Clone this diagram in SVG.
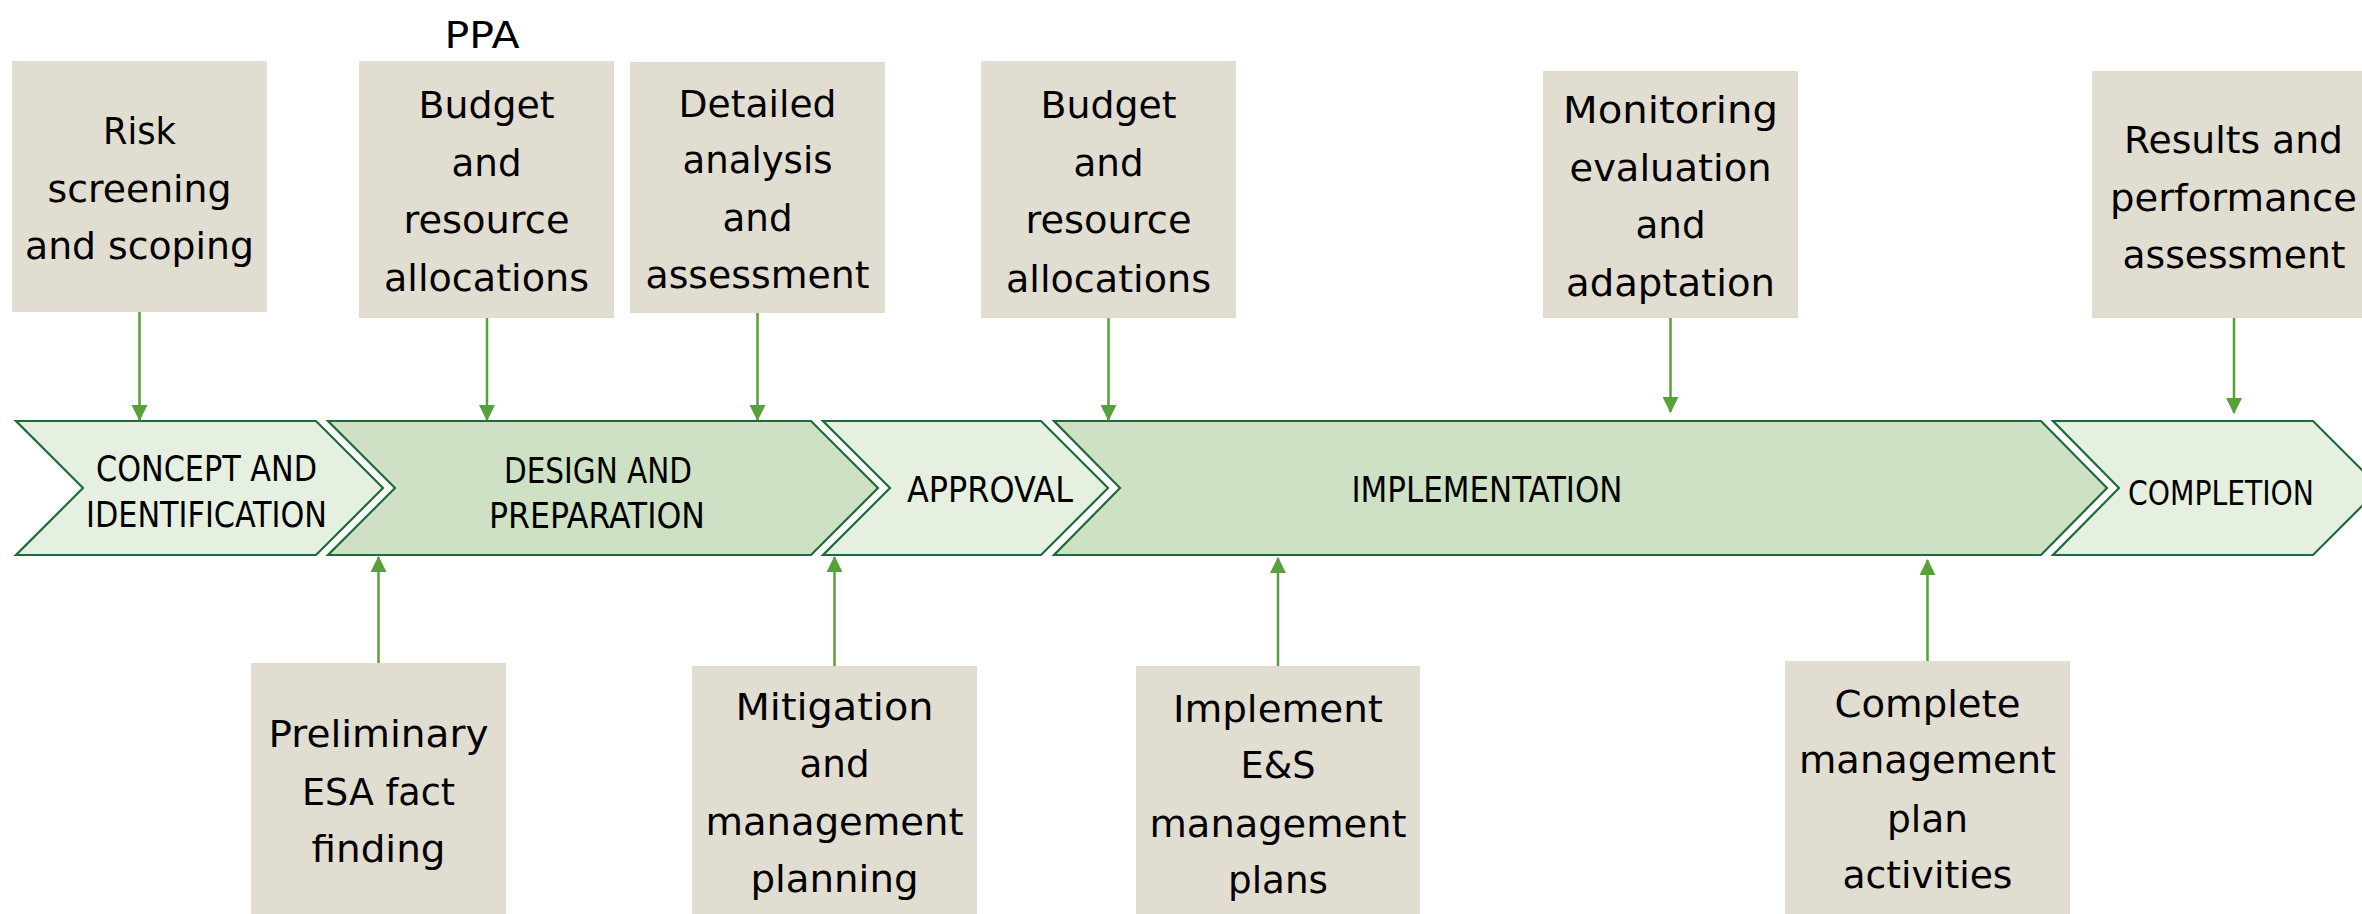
<svg xmlns="http://www.w3.org/2000/svg" width="2362" height="914" viewBox="0 0 2362 914">
<style>
.box{fill:#E2DDD1}
.lt{fill:#E6F0E1;stroke:#1D6A3A;stroke-width:2.2}
.dk{fill:#CFE1C4;stroke:#1D6A3A;stroke-width:2.2}
.bt{font-family:"DejaVu Sans","Liberation Sans",sans-serif;font-size:38px;fill:#000;text-anchor:middle}
.ct{font-family:"Liberation Sans Narrow","DejaVu Sans Condensed","Liberation Sans",sans-serif;font-size:36px;fill:#000;text-anchor:middle}
.ar{stroke:#57A03A;stroke-width:2.5;fill:none;marker-end:url(#ah)}
</style>
<defs>
<marker id="ah" markerUnits="userSpaceOnUse" markerWidth="16" markerHeight="16" viewBox="0 0 16 16" refX="15" refY="8" orient="auto">
<path d="M0,0 L16,8 L0,16 Z" fill="#57A03A"/>
</marker>
</defs>
<rect width="2362" height="914" fill="#fff"/>

<g id="phases">
<g id="concept"><polygon class="lt" points="16,421 316,421 383,488 316,555 16,555 83,488"/>
<text class="ct" x="206.5" y="481" textLength="221" lengthAdjust="spacingAndGlyphs">CONCEPT AND</text>
<text class="ct" x="206.5" y="527" textLength="241" lengthAdjust="spacingAndGlyphs">IDENTIFICATION</text></g>
<g id="design"><polygon class="dk" points="328,421 811,421 878,488 811,555 328,555 395,488"/>
<text class="ct" x="598" y="483" textLength="188" lengthAdjust="spacingAndGlyphs">DESIGN AND</text>
<text class="ct" x="597" y="528" textLength="216" lengthAdjust="spacingAndGlyphs">PREPARATION</text></g>
<g id="approval"><polygon class="lt" points="823,421 1041,421 1108,488 1041,555 823,555 890,488"/>
<text class="ct" x="990" y="502" textLength="166" lengthAdjust="spacingAndGlyphs">APPROVAL</text></g>
<g id="implementation"><polygon class="dk" points="1054,421 2041,421 2107,488 2041,555 1054,555 1120,488"/>
<text class="ct" x="1487" y="502" textLength="271" lengthAdjust="spacingAndGlyphs">IMPLEMENTATION</text></g>
<g id="completion"><polygon class="lt" points="2053,421 2313,421 2380,488 2313,555 2053,555 2119,488"/>
<text class="ct" x="2221" y="505" style="font-size:34px" textLength="186" lengthAdjust="spacingAndGlyphs">COMPLETION</text></g>
</g>

<text id="ppa" class="bt" x="482" y="48" textLength="75" lengthAdjust="spacingAndGlyphs">PPA</text>

<g id="risk"><rect class="box" x="12" y="61" width="255" height="251"/>
<text class="bt" x="139.5" y="144" textLength="73" lengthAdjust="spacingAndGlyphs">Risk</text>
<text class="bt" x="139.5" y="202" textLength="184" lengthAdjust="spacingAndGlyphs">screening</text>
<text class="bt" x="139.5" y="259" textLength="229" lengthAdjust="spacingAndGlyphs">and scoping</text></g>

<g id="budget1"><rect class="box" x="359" y="61" width="255" height="257"/>
<text class="bt" x="486.5" y="118" textLength="136" lengthAdjust="spacingAndGlyphs">Budget</text>
<text class="bt" x="486.5" y="176" textLength="70" lengthAdjust="spacingAndGlyphs">and</text>
<text class="bt" x="486.5" y="233" textLength="166" lengthAdjust="spacingAndGlyphs">resource</text>
<text class="bt" x="486.5" y="291" textLength="205" lengthAdjust="spacingAndGlyphs">allocations</text></g>

<g id="detailed"><rect class="box" x="630" y="62" width="255" height="251"/>
<text class="bt" x="757.5" y="117" textLength="158" lengthAdjust="spacingAndGlyphs">Detailed</text>
<text class="bt" x="757.5" y="173" textLength="150" lengthAdjust="spacingAndGlyphs">analysis</text>
<text class="bt" x="757.5" y="231" textLength="70" lengthAdjust="spacingAndGlyphs">and</text>
<text class="bt" x="757.5" y="288" textLength="224" lengthAdjust="spacingAndGlyphs">assessment</text></g>

<g id="budget2"><rect class="box" x="981" y="61" width="255" height="257"/>
<text class="bt" x="1108.5" y="118" textLength="136" lengthAdjust="spacingAndGlyphs">Budget</text>
<text class="bt" x="1108.5" y="176" textLength="70" lengthAdjust="spacingAndGlyphs">and</text>
<text class="bt" x="1108.5" y="233" textLength="166" lengthAdjust="spacingAndGlyphs">resource</text>
<text class="bt" x="1108.5" y="292" textLength="205" lengthAdjust="spacingAndGlyphs">allocations</text></g>

<g id="monitoring"><rect class="box" x="1543" y="71" width="255" height="247"/>
<text class="bt" x="1670.5" y="123" textLength="215" lengthAdjust="spacingAndGlyphs">Monitoring</text>
<text class="bt" x="1670.5" y="181" textLength="202" lengthAdjust="spacingAndGlyphs">evaluation</text>
<text class="bt" x="1670.5" y="238" textLength="70" lengthAdjust="spacingAndGlyphs">and</text>
<text class="bt" x="1670.5" y="296" textLength="209" lengthAdjust="spacingAndGlyphs">adaptation</text></g>

<g id="results"><rect class="box" x="2092" y="71" width="284" height="247"/>
<text class="bt" x="2233.5" y="153" textLength="219" lengthAdjust="spacingAndGlyphs">Results and</text>
<text class="bt" x="2233.5" y="211" textLength="247" lengthAdjust="spacingAndGlyphs">performance</text>
<text class="bt" x="2234" y="268" textLength="223" lengthAdjust="spacingAndGlyphs">assessment</text></g>

<g id="preliminary"><rect class="box" x="251" y="663" width="255" height="251"/>
<text class="bt" x="378.5" y="747" textLength="220" lengthAdjust="spacingAndGlyphs">Preliminary</text>
<text class="bt" x="378.5" y="805" textLength="153" lengthAdjust="spacingAndGlyphs">ESA fact</text>
<text class="bt" x="378.5" y="862" textLength="134" lengthAdjust="spacingAndGlyphs">finding</text></g>

<g id="mitigation"><rect class="box" x="692" y="666" width="285" height="248"/>
<text class="bt" x="834.5" y="720" textLength="198" lengthAdjust="spacingAndGlyphs">Mitigation</text>
<text class="bt" x="834.5" y="777" textLength="70" lengthAdjust="spacingAndGlyphs">and</text>
<text class="bt" x="834.5" y="835" textLength="258" lengthAdjust="spacingAndGlyphs">management</text>
<text class="bt" x="834.5" y="892" textLength="168" lengthAdjust="spacingAndGlyphs">planning</text></g>

<g id="implement"><rect class="box" x="1136" y="666" width="284" height="248"/>
<text class="bt" x="1278" y="722" textLength="210" lengthAdjust="spacingAndGlyphs">Implement</text>
<text class="bt" x="1278" y="778" textLength="75" lengthAdjust="spacingAndGlyphs">E&amp;S</text>
<text class="bt" x="1278" y="837" textLength="257" lengthAdjust="spacingAndGlyphs">management</text>
<text class="bt" x="1278" y="893" textLength="100" lengthAdjust="spacingAndGlyphs">plans</text></g>

<g id="complete"><rect class="box" x="1785" y="661" width="285" height="253"/>
<text class="bt" x="1927.5" y="717" textLength="186" lengthAdjust="spacingAndGlyphs">Complete</text>
<text class="bt" x="1927.5" y="773" textLength="257" lengthAdjust="spacingAndGlyphs">management</text>
<text class="bt" x="1927.5" y="832" textLength="81" lengthAdjust="spacingAndGlyphs">plan</text>
<text class="bt" x="1927.5" y="888" textLength="170" lengthAdjust="spacingAndGlyphs">activities</text></g>

<g id="connectors">
<line class="ar" x1="139.5" y1="312" x2="139.5" y2="420"/>
<line class="ar" x1="487" y1="318" x2="487" y2="420"/>
<line class="ar" x1="757.5" y1="313" x2="757.5" y2="420"/>
<line class="ar" x1="1108.5" y1="318" x2="1108.5" y2="420"/>
<line class="ar" x1="1670.5" y1="318" x2="1670.5" y2="412"/>
<line class="ar" x1="2234" y1="318" x2="2234" y2="413"/>
<line class="ar" x1="378.5" y1="663" x2="378.5" y2="557"/>
<line class="ar" x1="834.5" y1="666" x2="834.5" y2="557"/>
<line class="ar" x1="1278" y1="666" x2="1278" y2="558"/>
<line class="ar" x1="1927.5" y1="661" x2="1927.5" y2="560"/>
</g>
</svg>
